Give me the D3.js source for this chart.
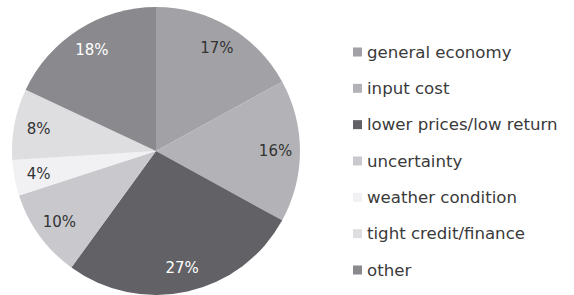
<!DOCTYPE html>
<html lang="en">
<head>
<meta charset="utf-8">
<title>Reasons pie</title>
<script type="text/javascript" src="https://d3js.org/d3.v7.min.js"></script>
<style>
body { margin: 0; background: #fff; }
.label { font-family: "DejaVu Sans", sans-serif; font-size: 15px; }
.legend text { font-family: "DejaVu Sans", sans-serif; font-size: 16.6px; fill: #3a3a3a; }
</style>
</head>
<body>
<div id="chart"></div>
<script type="text/javascript">

var categories = ["general economy", "input cost", "lower prices/low return", "uncertainty",
                  "weather condition", "tight credit/finance", "other"];
var shares = [17, 16, 27, 10, 4, 8, 18];
var colors = ["#a2a2a6", "#b3b3b7", "#626266", "#c9c9cd", "#f1f1f3", "#dedee1", "#8a8a8e"];
var labelColors = ["#333", "#333", "#fff", "#333", "#333", "#333", "#fff"];

var width = 574, height = 295;
var cx = 156, cy = 151, radius = 144;

var svg = d3.select("#chart").append("svg")
    .attr("width", width)
    .attr("height", height);

var pie = d3.pie().sort(null).value(function(d) { return d; });
var arcs = pie(shares);

var arc = d3.arc().innerRadius(0).outerRadius(radius);
var labelArc = d3.arc().innerRadius(radius * 0.8).outerRadius(radius * 0.86);

var g = svg.append("g")
    .attr("transform", "translate(" + cx + "," + cy + ")");

g.selectAll("path")
    .data(arcs)
    .enter().append("path")
        .attr("d", arc)
        .style("fill", function(d, i) { return colors[i]; });

g.selectAll(".label")
    .data(arcs)
    .enter().append("text")
        .attr("class", "label")
        .attr("transform", function(d) { return "translate(" + labelArc.centroid(d) + ")"; })
        .attr("dy", "0.35em")
        .style("text-anchor", "middle")
        .style("fill", function(d, i) { return labelColors[i]; })
        .text(function(d) { return d.data + "%"; });

var legendY = d3.scalePoint().domain(categories).range([52, 270]);

var legend = svg.append("g").attr("class", "legend")
    .selectAll("g")
    .data(categories)
    .enter().append("g")
        .attr("transform", function(d) { return "translate(353," + legendY(d) + ")"; });

legend.append("rect")
    .attr("x", 0)
    .attr("y", -4.5)
    .attr("width", 9)
    .attr("height", 9)
    .style("fill", function(d, i) { return colors[i]; });

legend.append("text")
    .attr("x", 14)
    .attr("dy", "0.35em")
    .text(function(d) { return d; });

</script>
</body>
</html>
